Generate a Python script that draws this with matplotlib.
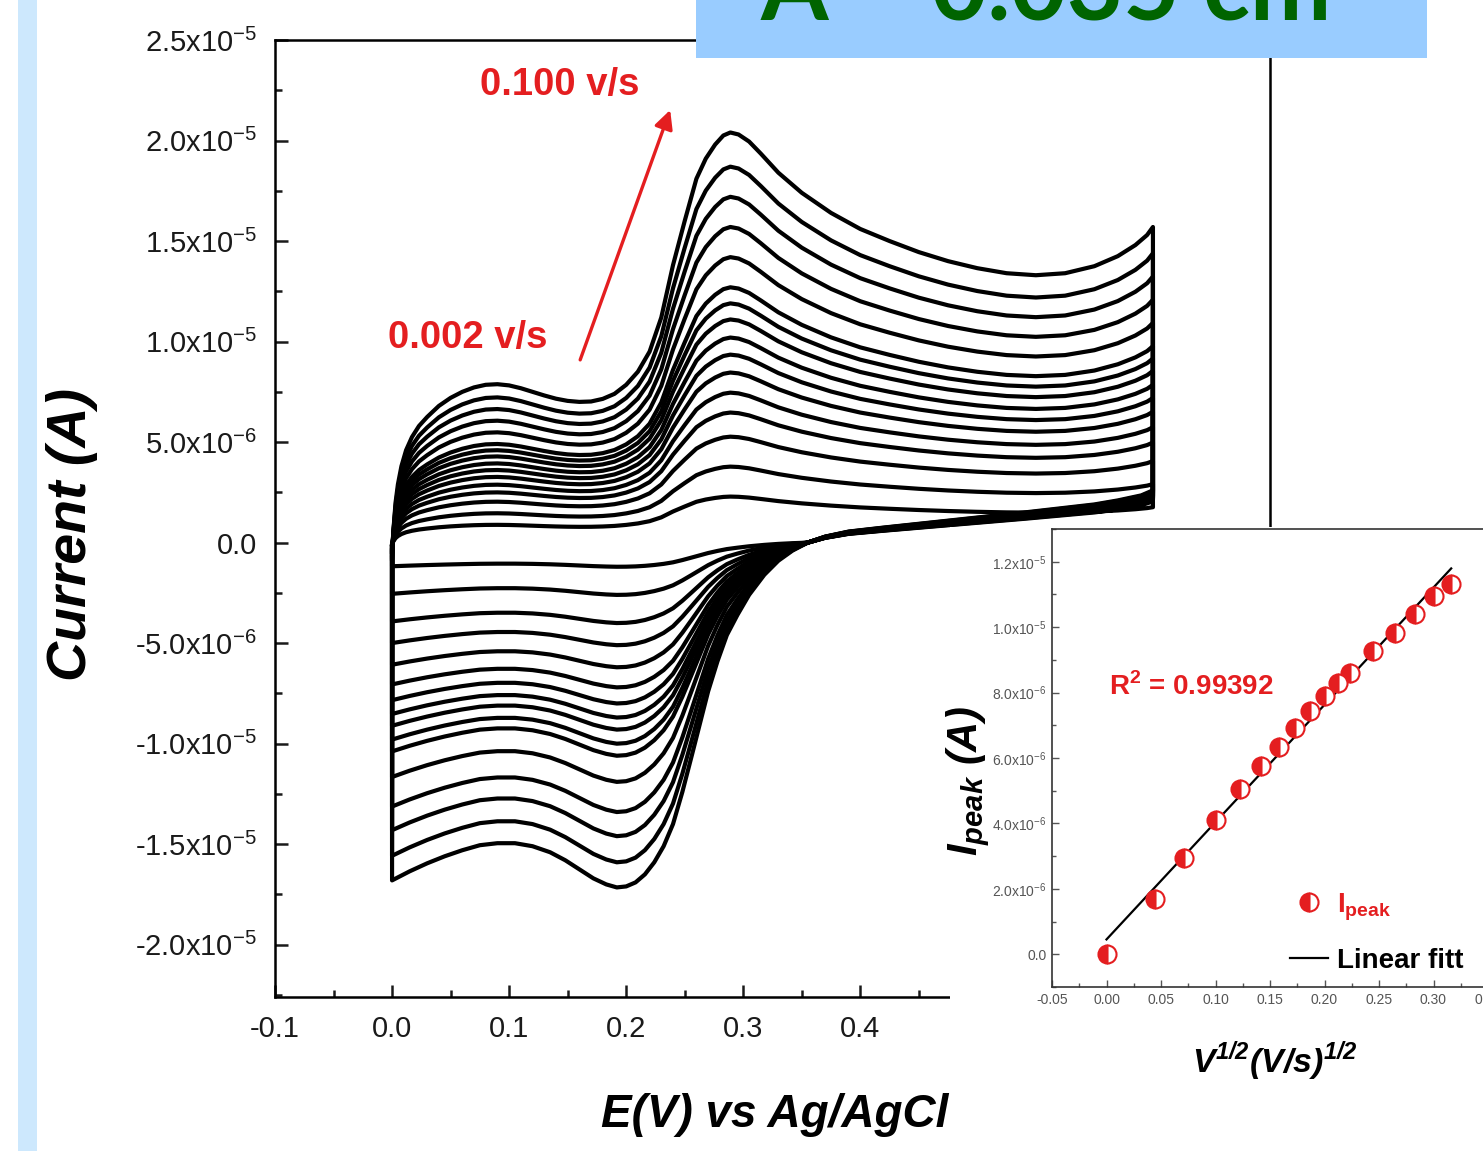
import numpy as np
import matplotlib
matplotlib.use("Agg")
import matplotlib.pyplot as plt
from matplotlib import font_manager
from matplotlib.patches import Rectangle
from matplotlib.ticker import MultipleLocator, FixedLocator, FuncFormatter


def first_font(*names):
    for name in names:
        try:
            font_manager.findfont(name, fallback_to_default=False)
            return name
        except ValueError:
            pass
    return "DejaVu Sans"


SANS = first_font("Liberation Sans Narrow", "Arial Narrow", "Liberation Sans")

plt.rcParams["font.family"] = SANS
plt.rcParams["axes.unicode_minus"] = False

RED = "#e41e20"

# scan rates (V/s) of the 16 voltammograms
scan_rates = [0.002, 0.005, 0.01, 0.015, 0.02, 0.025, 0.03, 0.035,
              0.04, 0.045, 0.05, 0.06, 0.07, 0.08, 0.09, 0.1]
# anodic / cathodic peak currents for each scan rate (uA)
anodic_peak = [2.29, 3.78, 5.27, 6.47, 7.46, 8.46, 9.35, 10.2,
               11.1, 11.9, 12.7, 14.2, 15.7, 17.2, 18.7, 20.4]
cathodic_peak = [-1.2, -2.6, -4.0, -5.1, -6.2, -7.2, -8.0, -8.7,
                 -9.3, -10.0, -10.6, -11.9, -13.4, -14.6, -15.9, -17.15]
# reverse-sweep current at 0.60 V for each scan rate (uA)
reverse_tail = [1.5, 1.53, 1.56, 1.58, 1.6, 1.62, 1.64, 1.66,
                1.68, 1.7, 1.72, 1.76, 1.8, 1.83, 1.87, 1.9]

# 0.100 V/s trace, forward sweep (V, uA)
fwd_E = [0.000, 0.001, 0.003, 0.005, 0.008, 0.012, 0.017, 0.023, 0.030, 0.040,
         0.050, 0.060, 0.070, 0.080, 0.090, 0.100, 0.110, 0.120, 0.130, 0.140,
         0.150, 0.160, 0.170, 0.180, 0.190, 0.200, 0.210, 0.220, 0.230, 0.240,
         0.250, 0.260, 0.268, 0.276, 0.283, 0.289, 0.296, 0.305, 0.315, 0.330,
         0.350, 0.375, 0.400, 0.425, 0.450, 0.475, 0.500, 0.525, 0.550, 0.575,
         0.600, 0.620, 0.635, 0.645, 0.650]
fwd_I = [-0.8, 0.5, 2.0, 2.9, 3.8, 4.6, 5.25, 5.8, 6.25, 6.8,
         7.2, 7.5, 7.72, 7.85, 7.88, 7.82, 7.68, 7.5, 7.32, 7.16,
         7.05, 7.0, 7.02, 7.15, 7.4, 7.85, 8.5, 9.5, 11.2, 13.8,
         16.0, 18.1, 19.1, 19.8, 20.25, 20.4, 20.3, 19.95, 19.35, 18.4,
         17.4, 16.4, 15.6, 15.0, 14.45, 14.0, 13.65, 13.4, 13.3, 13.4,
         13.75, 14.25, 14.8, 15.3, 15.7]
# 0.100 V/s trace, reverse sweep (V, uA)
rev_E = [0.650, 0.640, 0.620, 0.600, 0.570, 0.540, 0.500, 0.460, 0.420, 0.390,
         0.370, 0.355, 0.342, 0.330, 0.318, 0.305, 0.295, 0.286, 0.278, 0.270,
         0.263, 0.256, 0.248, 0.240, 0.232, 0.224, 0.216, 0.208, 0.200, 0.192,
         0.183, 0.172, 0.160, 0.148, 0.135, 0.120, 0.105, 0.090, 0.075, 0.060,
         0.045, 0.030, 0.015, 0.000]
rev_I = [2.6, 2.35, 2.1, 1.9, 1.7, 1.5, 1.25, 1.0, 0.75, 0.55,
         0.3, 0.0, -0.4, -0.9, -1.6, -2.6, -3.6, -4.6, -5.9, -7.4,
         -9.0, -10.6, -12.4, -14.0, -15.1, -15.9, -16.5, -16.9, -17.1, -17.15,
         -17.0, -16.7, -16.25, -15.8, -15.4, -15.1, -14.95, -14.95, -15.05, -15.3,
         -15.6, -15.95, -16.35, -16.8]

# inset: peak current vs square root of scan rate
inset_rates = [0.0] + scan_rates
inset_ipeak = [0.0, 1.69, 2.95, 4.12, 5.05, 5.75, 6.35, 6.91, 7.43,
               7.88, 8.3, 8.6, 9.27, 9.83, 10.4, 10.96, 11.32]

# potential tick labels left uncovered by the inset
e_ticks = [-0.1, 0.0, 0.1, 0.2, 0.3, 0.4]
e_minor = [-0.05, 0.05, 0.15, 0.25, 0.35, 0.45]


def sci_label(v, pos):
    if abs(v) < 1e-12:
        return "0.0"
    exp = int(np.floor(np.log10(abs(v)) + 1e-9))
    mant = v / 10 ** exp
    return f"{mant:.1f}x10$^{{\\mathregular{{{exp}}}}}$"


W, H = 1483, 1151
fig = plt.figure(figsize=(W / 100, H / 100), dpi=100)
fig.patch.set_facecolor("white")

# ---- main voltammograms ----
ax = fig.add_axes([275 / W, 1 - 997 / H, 995 / W, 957 / H])
fwd_arr = np.array(fwd_I)
rev_arr = np.array(rev_I)
tail_ref = rev_arr[list(rev_E).index(0.600)]
for ipa, ipc, tail in zip(anodic_peak, cathodic_peak, reverse_tail):
    i_f = fwd_arr * ipa / fwd_arr.max()
    # positive part of the return sweep follows the background tail,
    # the cathodic wave follows the cathodic peak
    i_r = np.where(rev_arr > 0, rev_arr * tail / tail_ref,
                   rev_arr * ipc / rev_arr.min())
    E = np.r_[fwd_E, rev_E, fwd_E[0]]
    cur = np.r_[i_f, i_r, i_f[0]] * 1e-6
    ax.plot(E, cur, color="black", lw=3.0, solid_joinstyle="round")

ax.set_xlim(-0.1, 0.75)
ax.set_ylim(-2.26e-5, 2.5e-5)
ax.xaxis.set_major_locator(FixedLocator(e_ticks))
ax.xaxis.set_minor_locator(FixedLocator(e_minor))
ax.yaxis.set_major_locator(MultipleLocator(5e-6))
ax.yaxis.set_minor_locator(MultipleLocator(2.5e-6))
ax.xaxis.set_major_formatter(FuncFormatter(lambda v, p: f"{v:.1f}"))
ax.yaxis.set_major_formatter(FuncFormatter(sci_label))
ax.tick_params(which="both", direction="in", top=False, right=False,
               width=1.8, colors="#1a1a1a", labelsize=21)
ax.tick_params(which="major", length=9, pad=13)
ax.tick_params(which="minor", length=5)
for sp in ax.spines.values():
    sp.set_linewidth(1.8)

ax.set_xlabel("E(V) vs Ag/AgCl", fontsize=33, fontweight="bold",
              fontstyle="italic", va="center")
ax.xaxis.set_label_coords(0.5025, -0.123)
ax.set_ylabel("Current (A)", fontsize=40, fontweight="bold",
              fontstyle="italic", va="center")
ax.yaxis.set_label_coords(-0.204, 0.483)

ax.annotate("", xy=(0.2376, 2.152e-5), xytext=(0.1607, 9.09e-6),
            arrowprops=dict(arrowstyle="-|>", color=RED, lw=2.4,
                            mutation_scale=28, shrinkA=0, shrinkB=0))
ax.text(0.065, 1.018e-5, "0.002 v/s", color=RED, fontsize=27.5,
        fontweight="bold", ha="center", va="center")
ax.text(0.1436, 2.276e-5, "0.100 v/s", color=RED, fontsize=27.5,
        fontweight="bold", ha="center", va="center")

# white backing behind the inset
fig.add_artist(Rectangle((950 / W, 0), 533 / W, (H - 527) / H,
                         transform=fig.transFigure, facecolor="white",
                         edgecolor="none", zorder=2))

# ---- inset: peak current vs sqrt(scan rate) ----
axi = fig.add_axes([1052 / W, 1 - 987 / H, 436 / W, 458 / H], zorder=5)
sqrt_v = np.sqrt(inset_rates)
ip = np.array(inset_ipeak) * 1e-6
slope, icpt = np.polyfit(sqrt_v, ip, 1)
xfit = np.array([0.0, sqrt_v.max()])
axi.plot(sqrt_v, ip, "o", ms=13, fillstyle="left", color=RED,
         markerfacecoloralt="white", markeredgecolor=RED, mew=1.5,
         label="$\\mathregular{I}_{\\mathregular{peak}}$", zorder=3)
axi.plot(xfit, slope * xfit + icpt, color="black", lw=1.6,
         label="Linear fitt", zorder=2)

axi.set_xlim(-0.05, 0.35)
axi.set_ylim(-1e-6, 1.3e-5)
axi.xaxis.set_major_locator(MultipleLocator(0.05))
axi.xaxis.set_minor_locator(MultipleLocator(0.025))
axi.yaxis.set_major_locator(MultipleLocator(2e-6))
axi.yaxis.set_minor_locator(MultipleLocator(1e-6))
axi.xaxis.set_major_formatter(FuncFormatter(lambda v, p: f"{v:.2f}"))
axi.yaxis.set_major_formatter(FuncFormatter(sci_label))
axi.tick_params(which="both", direction="in", top=False, right=False,
                width=1.0, colors="#555555", labelsize=10)
axi.tick_params(which="major", length=5, pad=4)
axi.tick_params(which="minor", length=3)
for sp in axi.spines.values():
    sp.set_linewidth(1.2)
    sp.set_color("#333333")

axi.set_xlabel("V$^{\\mathregular{1/2}}$(V/s)$^{\\mathregular{1/2}}$",
               fontsize=24.5, fontweight="bold", fontstyle="italic", va="center")
axi.xaxis.set_label_coords(0.511, -0.163)
axi.set_ylabel("$\\mathregular{I}_{\\mathregular{peak}}$ (A)", fontsize=30,
               fontweight="bold", fontstyle="italic", va="center")
axi.yaxis.set_label_coords(-0.193, 0.45)
axi.text(0.319, 0.655, "R$^{\\mathregular{2}}$ = 0.99392", color=RED,
         fontsize=20, fontweight="bold", ha="center", va="center",
         transform=axi.transAxes)

leg = axi.legend(loc="lower left", bbox_to_anchor=(0.546, 0.029), frameon=False,
                 numpoints=1, handlelength=1.37, handletextpad=0.32,
                 labelspacing=0.9, borderpad=0, borderaxespad=0,
                 prop=dict(family=SANS, weight="bold", size=20))
leg.get_texts()[0].set_color(RED)

# ---- slide decorations ----
fig.add_artist(Rectangle((18 / W, 0), 19 / W, 1, transform=fig.transFigure,
                         facecolor="#cde8fd", edgecolor="none", zorder=6))
fig.add_artist(Rectangle((696 / W, 1 - 58 / H), 731 / W, 58 / H,
                         transform=fig.transFigure, facecolor="#99ccff",
                         edgecolor="none", zorder=6))
fig.text(761 / W, 1 - 20 / H, "A = 0.035 cm²", color="#006400", fontsize=70,
         fontweight="bold", family=first_font("Lato", "Open Sans"),
         va="baseline", ha="left", zorder=7)

fig.savefig("out.png", dpi=100)
